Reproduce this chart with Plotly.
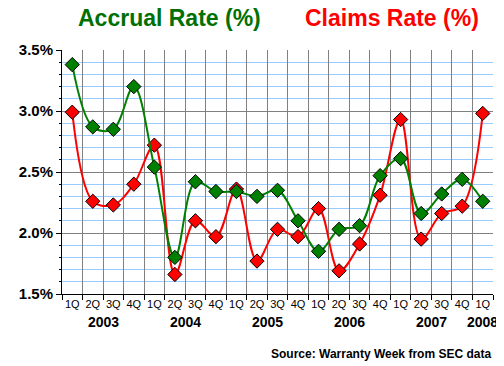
import plotly.graph_objects as go

years = ["2003", "2004", "2005", "2006", "2007", "2008"]
quarters_per_year = [4, 4, 4, 4, 4, 1]
quarter_names = ["1Q", "2Q", "3Q", "4Q"]

accrual_rate = [3.38, 2.87, 2.85, 3.20, 2.54, 1.80, 2.42, 2.34, 2.34, 2.30,
                2.35, 2.10, 1.85, 2.03, 2.06, 2.47, 2.61, 2.16, 2.32, 2.44, 2.26]
claims_rate = [2.99, 2.26, 2.23, 2.40, 2.72, 1.66, 2.10, 1.97, 2.36, 1.77,
               2.03, 1.97, 2.20, 1.69, 1.91, 2.31, 2.93, 1.95, 2.16, 2.22, 2.98]

categories = []
tick_text = []
year_centers = []
idx = 0
for y, n in zip(years, quarters_per_year):
    for q in range(n):
        categories.append(f"{quarter_names[q]} {y}")
        tick_text.append(quarter_names[q])
    year_centers.append(idx + (n - 1) / 2)
    idx += n

FONT = "Liberation Sans, Arial, sans-serif"
GREEN = "#008000"
RED = "#ff0000"

# page body has an 8px default margin; the figure is sized to fit the 504x366 window
W, H = 496, 358
L, T = 44, 42
PW, PH = 441, 244

fig = go.Figure()
fig.add_trace(go.Scatter(
    x=categories, y=claims_rate, mode="lines+markers",
    line=dict(color=RED, width=2, shape="spline", smoothing=1),
    marker=dict(symbol="diamond", size=11, color=RED, line=dict(color="black", width=1)),
    name="Claims Rate (%)"))
fig.add_trace(go.Scatter(
    x=categories, y=accrual_rate, mode="lines+markers",
    line=dict(color=GREEN, width=2, shape="spline", smoothing=1),
    marker=dict(symbol="diamond", size=11, color=GREEN, line=dict(color="black", width=1)),
    name="Accrual Rate (%)"))

annotations = []
for y, c in zip(years, year_centers):
    annotations.append(dict(x=c, y=0, xref="x", yref="paper", text=y, showarrow=False,
                            xanchor="center", yanchor="middle", yshift=-28,
                            font=dict(family=FONT, size=14, color="black", weight="bold")))
annotations.append(dict(x=(162 - 52) / PW, y=1, xref="paper", yref="paper",
                        text="Accrual Rate (%)", showarrow=False,
                        xanchor="center", yanchor="middle", yshift=32,
                        font=dict(family=FONT, size=23, color="#007000", weight="bold")))
annotations.append(dict(x=(390 - 52) / PW, y=1, xref="paper", yref="paper",
                        text="Claims Rate (%)", showarrow=False,
                        xanchor="center", yanchor="middle", yshift=32,
                        font=dict(family=FONT, size=23, color=RED, weight="bold")))
annotations.append(dict(x=1, y=0, xref="paper", yref="paper", xanchor="right",
                        text="Source: Warranty Week from SEC data", showarrow=False,
                        yanchor="middle", yshift=-60,
                        font=dict(family=FONT, size=12, color="black", weight="bold")))

fig.update_layout(
    width=W, height=H,
    margin=dict(l=L, r=W - L - PW, t=T, b=H - T - PH, pad=0),
    paper_bgcolor="white", plot_bgcolor="white",
    showlegend=False,
    annotations=annotations,
    xaxis=dict(type="category", tickmode="array", tickvals=categories, ticktext=tick_text,
               tickson="boundaries", ticks="outside", ticklen=5, tickcolor="black",
               showline=True, linecolor="black", linewidth=1,
               showgrid=True, gridcolor="#808080", gridwidth=1,
               range=[-0.5, len(categories) - 0.5],
               tickfont=dict(family=FONT, size=11, color="black"), tickangle=0),
    yaxis=dict(range=[1.5, 3.5], dtick=0.5, tick0=1.5, tickformat=".1f", ticksuffix="%",
               ticks="outside", ticklen=5, tickcolor="black",
               showline=True, linecolor="black", linewidth=1,
               showgrid=True, gridcolor="#808080", gridwidth=1, zeroline=False,
               tickfont=dict(family=FONT, size=15, color="black", weight="bold"),
               minor=dict(dtick=0.1, tick0=1.5, showgrid=True, gridcolor="#99ccff",
                          gridwidth=1, ticks="outside", ticklen=2, tickcolor="black")),
)

fig.write_html("out.html")
